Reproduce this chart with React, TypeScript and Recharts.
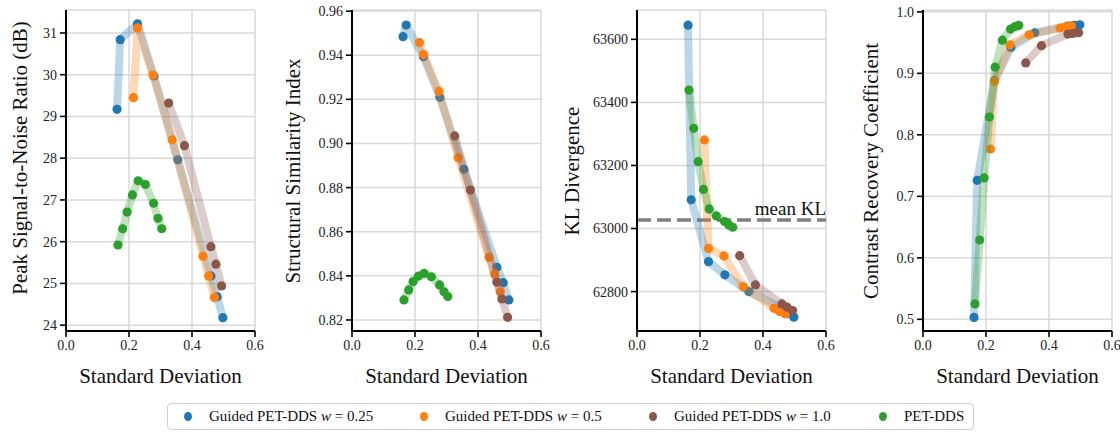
import React from "react";
import { ScatterChart, Scatter, XAxis, YAxis, CartesianGrid, ReferenceLine, Label } from "recharts";

const FONT = '"Liberation Serif", "DejaVu Serif", serif';

// std of each reconstruction (shared x for all four metrics)
const stdW025 = [0.162, 0.172, 0.227, 0.279, 0.355, 0.46, 0.48, 0.498];
const stdW05 = [0.214, 0.227, 0.276, 0.337, 0.435, 0.453, 0.471];
const stdW10 = [0.326, 0.376, 0.46, 0.476, 0.494];
const stdBase = [0.165, 0.18, 0.194, 0.211, 0.229, 0.252, 0.278, 0.292, 0.304];

const psnrW025 = [29.17, 30.84, 31.22, 29.97, 27.96, 25.18, 24.68, 24.18];
const psnrW05 = [29.45, 31.12, 29.99, 28.44, 25.65, 25.18, 24.66];
const psnrW10 = [29.32, 28.3, 25.88, 25.46, 24.94];
const psnrBase = [25.92, 26.31, 26.71, 27.12, 27.46, 27.37, 26.92, 26.56, 26.31];

const ssimW025 = [0.9484, 0.9537, 0.9393, 0.9209, 0.8883, 0.8439, 0.8369, 0.8291];
const ssimW05 = [0.9458, 0.9403, 0.9236, 0.8935, 0.8484, 0.8408, 0.8328];
const ssimW10 = [0.9034, 0.8789, 0.8371, 0.8295, 0.8212];
const ssimBase = [0.8291, 0.8336, 0.8374, 0.8399, 0.8411, 0.8396, 0.8359, 0.8328, 0.8306];

const klW025 = [63645, 63091, 62895, 62853, 62800, 62748, 62732, 62719];
const klW05 = [63281, 62937, 62913, 62816, 62747, 62737, 62729];
const klW10 = [62914, 62821, 62761, 62751, 62740];
const klBase = [63439, 63318, 63212, 63124, 63062, 63040, 63022, 63011, 63004];
const MEAN_KL = 63027;

const crcW025 = [0.503, 0.726, 0.888, 0.942, 0.966, 0.977, 0.978, 0.979];
const crcW05 = [0.777, 0.887, 0.9465, 0.9627, 0.9736, 0.9757, 0.9773];
const crcW10 = [0.917, 0.945, 0.9638, 0.9648, 0.966];
const crcBase = [0.525, 0.629, 0.73, 0.829, 0.91, 0.954, 0.972, 0.976, 0.978];

const X_TICKS = [0, 0.2, 0.4, 0.6];
const psnrTicks = [24, 25, 26, 27, 28, 29, 30, 31];
const ssimTicks = [0.82, 0.84, 0.86, 0.88, 0.9, 0.92, 0.94, 0.96];
const klTicks = [62800, 63000, 63200, 63400, 63600];
const crcTicks = [0.5, 0.6, 0.7, 0.8, 0.9, 1.0];

const SERIES = [
  { label: "0.25", color: "#1f77b4", std: stdW025 },
  { label: "0.5", color: "#ff7f0e", std: stdW05 },
  { label: "1.0", color: "#8c564b", std: stdW10 },
  { label: null, color: "#2ca02c", std: stdBase },
];

const zip = (xs: number[], ys: number[]) => xs.map((x, i) => ({ x, y: ys[i] }));

type Panel = {
  title: string;
  values: number[][];
  domain: [number, number];
  ticks: number[];
  fmt: (v: number) => string;
  left: number;
  yW: number;
  width: number;
  labelX: number;
  labelY: number;
  meanKL?: boolean;
};

const PANELS: Panel[] = [
  {
    title: "Peak Signal-to-Noise Ratio (dB)",
    values: [psnrW025, psnrW05, psnrW10, psnrBase],
    domain: [23.86, 31.55],
    ticks: psnrTicks,
    fmt: (v) => String(v),
    left: 0, yW: 66, width: 265, labelX: 20, labelY: 158,
  },
  {
    title: "Structural Similarity Index",
    values: [ssimW025, ssimW05, ssimW10, ssimBase],
    domain: [0.815, 0.9605],
    ticks: ssimTicks,
    fmt: (v) => v.toFixed(2),
    left: 280, yW: 72, width: 271, labelX: 13, labelY: 171,
  },
  {
    title: "KL Divergence",
    values: [klW025, klW05, klW10, klBase],
    domain: [62675, 63693],
    ticks: klTicks,
    fmt: (v) => String(v),
    left: 560, yW: 77, width: 277, labelX: 12, labelY: 171,
    meanKL: true,
  },
  {
    title: "Contrast Recovery Coefficient",
    values: [crcW025, crcW05, crcW10, crcBase],
    domain: [0.481, 1.003],
    ticks: crcTicks,
    fmt: (v) => v.toFixed(1),
    left: 840, yW: 83, width: 280, labelX: 31, labelY: 171,
  },
];

const tickStyle = { fill: "#222", fontSize: 14, fontFamily: FONT };

function MetricChart({ p }: { p: Panel }) {
  return (
    <div style={{ position: "absolute", left: p.left, top: 0 }}>
      <ScatterChart width={p.width} height={400} margin={{ top: 10, right: p.width - p.yW - 189, left: 0, bottom: 0 }}>
        <CartesianGrid stroke="#d9d9d9" strokeWidth={1.5} />
        <XAxis
          type="number"
          dataKey="x"
          domain={[0, 0.6]}
          ticks={X_TICKS}
          interval={0}
          allowDataOverflow
          tickFormatter={(v: number) => v.toFixed(1)}
          height={69}
          tickSize={6}
          tickMargin={3}
          axisLine={{ stroke: "#000", strokeWidth: 2 }}
          tickLine={{ stroke: "#000", strokeWidth: 1.6 }}
          tick={tickStyle}
        >
          <Label
            content={({ viewBox }: any) => (
              <text
                x={viewBox.x + viewBox.width / 2}
                y={383}
                textAnchor="middle"
                fontFamily={FONT}
                fontSize={21}
                fill="#111"
              >
                Standard Deviation
              </text>
            )}
          />
        </XAxis>
        <YAxis
          type="number"
          dataKey="y"
          domain={p.domain}
          ticks={p.ticks}
          interval={0}
          allowDataOverflow
          tickFormatter={p.fmt}
          width={p.yW}
          tickSize={6}
          tickMargin={3}
          axisLine={{ stroke: "#000", strokeWidth: 2 }}
          tickLine={{ stroke: "#000", strokeWidth: 1.6 }}
          tick={tickStyle}
        >
          <Label
            content={() => (
              <text
                x={p.labelX}
                y={p.labelY}
                transform={`rotate(-90 ${p.labelX} ${p.labelY})`}
                textAnchor="middle"
                dominantBaseline="central"
                fontFamily={FONT}
                fontSize={21}
                fill="#111"
              >
                {p.title}
              </text>
            )}
          />
        </YAxis>
        {SERIES.map((s, i) => (
          <Scatter
            key={i}
            data={zip(s.std, p.values[i])}
            isAnimationActive={false}
            line={{ stroke: s.color, strokeWidth: 8, strokeOpacity: 0.3, strokeLinejoin: "round" }}
            lineType="joint"
            shape={(props: any) => <circle cx={props.cx} cy={props.cy} r={4.6} fill={s.color} />}
          />
        ))}
        {p.meanKL && (
          <ReferenceLine
            y={MEAN_KL}
            stroke="#808080"
            strokeWidth={3.5}
            strokeDasharray="14 6"
            label={{
              content: ({ viewBox }: any) => (
                <text
                  x={viewBox.x + viewBox.width}
                  y={viewBox.y - 5}
                  textAnchor="end"
                  fontFamily={FONT}
                  fontSize={19}
                  fill="#111"
                >
                  mean KL
                </text>
              ),
            }}
          />
        )}
      </ScatterChart>
    </div>
  );
}

const LEGEND_SLOTS = [20, 256, 485, 715];

function FigureLegend() {
  return (
    <div
      style={{
        position: "absolute",
        left: 167,
        top: 403,
        width: 807,
        height: 27,
        border: "1.5px solid #cfcfcf",
        borderRadius: 4,
        boxSizing: "border-box",
        fontFamily: FONT,
        fontSize: 15,
        color: "#111",
      }}
    >
      {SERIES.map((s, i) => (
        <div
          key={i}
          style={{
            position: "absolute",
            left: LEGEND_SLOTS[i] - 4,
            top: 0,
            height: 24,
            display: "flex",
            alignItems: "center",
            whiteSpace: "nowrap",
          }}
        >
          <span style={{ width: 8, height: 9, borderRadius: "50%", background: s.color, marginRight: 17 }} />
          {s.label ? (
            <span>
              Guided PET-DDS <i>w</i> = {s.label}
            </span>
          ) : (
            <span>PET-DDS</span>
          )}
        </div>
      ))}
    </div>
  );
}

export default function App() {
  return (
    <div style={{ position: "absolute", left: 0, top: 0, width: 1120, height: 433, background: "#fff" }}>
      {PANELS.map((p, i) => (
        <MetricChart key={i} p={p} />
      ))}
      <FigureLegend />
    </div>
  );
}
